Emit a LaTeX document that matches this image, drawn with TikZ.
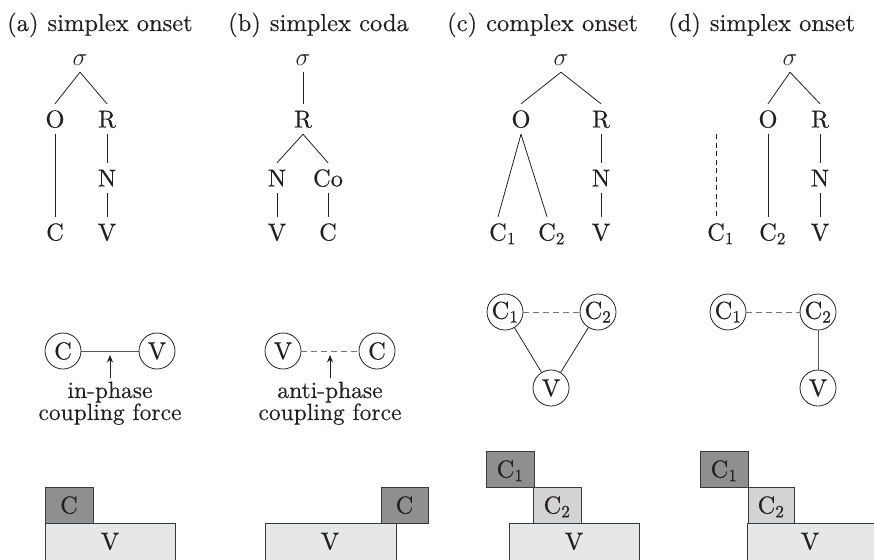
\documentclass[tikz,border=0pt]{standalone}
\usepackage{fontspec}
\setmainfont{lmroman10-regular.otf}[FakeBold=0.35, BoldFont=lmroman10-regular.otf, BoldFeatures={FakeBold=0.35}]
\usetikzlibrary{arrows.meta}

\definecolor{boxdark}{HTML}{8F8F8F}
\definecolor{boxmid}{HTML}{D3D3D3}
\definecolor{boxlight}{HTML}{E6E7E8}
\definecolor{boxedge}{HTML}{3A3A3A}
\definecolor{ink}{HTML}{231F20}

% consonant with an index, index set in the text font
\newcommand{\Cix}[1]{C\textsubscript{#1}}
% same, but the index takes no width so the node centres on the C
\newcommand{\Cixl}[1]{C\rlap{\textsubscript{#1}}}

\begin{document}
\begin{tikzpicture}[x=1pt,y=-1pt,
  every node/.style={font=\fontsize{24.5}{24.5}\selectfont\bfseries, text=ink},
  % tree labels: node centre sits at the middle of the capitals
  tn/.style={inner sep=0pt, minimum height=30pt, text height=17pt, text depth=0pt},
  % oscillator circles in the coupling graphs
  osc/.style={draw=ink, circle, minimum size=36pt, inner sep=0pt, line width=0.8pt},
  branch/.style={line width=0.8pt, draw=ink},
  dotbranch/.style={line width=0.8pt, draw=ink, dash pattern=on 5pt off 3.5pt},
  inphase/.style={line width=0.9pt, draw=black!65},
  inphasedark/.style={line width=0.8pt, draw=black!85},
  antiphase/.style={line width=0.9pt, draw=black!55, dash pattern=on 6pt off 4pt},
  force/.style={-{Stealth[length=7.5pt,width=6pt]}, line width=0.8pt, draw=ink, fill=ink},
  lab/.style={inner sep=0pt, anchor=base, font=\fontsize{23.5}{23.5}\selectfont\bfseries},
  ttl/.style={inner sep=0pt, anchor=base west},
  gbox/.style={draw=boxedge, line width=0.7pt},
  boxtxt/.style={inner sep=0pt, text height=17pt, text depth=0pt}
]
\useasboundingbox (0,0) rectangle (874,559);

% ---------------- titles ----------------
\node[ttl] (ta) at (7,31)   {(a)\hspace{9pt}simplex onset};
\node[ttl] (tb) at (228,31) {(b)\hspace{9pt}simplex coda};
\node[ttl] (tc) at (447,31) {(c)\hspace{9pt}complex onset};
\node[ttl] (td) at (668,31) {(d)\hspace{9pt}simplex onset};

% ---------------- trees ----------------
% (a)
\node[tn] (a-s) at (80,57) {$\sigma$};
\node[tn] (a-O) at (55,119)  {O};
\node[tn] (a-R) at (107,119) {R};
\node[tn] (a-N) at (107,178) {N};
\node[tn] (a-C) at (55,232)  {C};
\node[tn] (a-V) at (107,232) {V};
\draw[branch] (a-s.south) -- (a-O.north);
\draw[branch] (a-s.south) -- (a-R.north);
\draw[branch] (a-O.south) -- (a-C.north);
\draw[branch] (a-R.south) -- (a-N.north);
\draw[branch] (a-N.south) -- (a-V.north);

% (b)
\node[tn] (b-s)  at (303,57) {$\sigma$};
\node[tn] (b-R)  at (303,119) {R};
\node[tn] (b-N)  at (277,178) {N};
\node[tn] (b-Co) at (328,178) {Co};
\node[tn] (b-V)  at (277,232) {V};
\node[tn] (b-C)  at (328,232) {C};
\draw[branch] (b-s.south) -- (b-R.north);
\draw[branch] (b-R.south) -- (b-N.north);
\draw[branch] (b-R.south) -- (b-Co.north);
\draw[branch] (b-N.south) -- (b-V.north);
\draw[branch] (b-Co.south) -- (b-C.north);

% (c)
\node[tn] (c-s)  at (561,57) {$\sigma$};
\node[tn] (c-O)  at (521,119) {O};
\node[tn] (c-R)  at (601,119) {R};
\node[tn] (c-N)  at (601,178) {N};
\node[tn] (c-C1) at (498,232) {\Cixl{1}};
\node[tn] (c-C2) at (547,232) {\Cixl{2}};
\node[tn] (c-V)  at (601,232) {V};
\draw[branch] (c-s.south) -- (c-O.north);
\draw[branch] (c-s.south) -- (c-R.north);
\draw[branch] (c-O.south) -- (c-C1.north);
\draw[branch] (c-O.south) -- (c-C2.north);
\draw[branch] (c-R.south) -- (c-N.north);
\draw[branch] (c-N.south) -- (c-V.north);

% (d)
\node[tn] (d-s)  at (790,57) {$\sigma$};
\node[tn] (d-O)  at (768,119) {O};
\node[tn] (d-R)  at (820,119) {R};
\node[tn] (d-N)  at (820,178) {N};
\node[tn] (d-C1) at (716,232) {\Cixl{1}};
\node[tn] (d-C2) at (768,232) {\Cixl{2}};
\node[tn] (d-V)  at (820,232) {V};
\coordinate (d-loose) at (716,134);
\draw[branch] (d-s.south) -- (d-O.north);
\draw[branch] (d-s.south) -- (d-R.north);
\draw[branch] (d-O.south) -- (d-C2.north);
\draw[dotbranch] (d-loose) -- (d-C1.north);
\draw[branch] (d-R.south) -- (d-N.north);
\draw[branch] (d-N.south) -- (d-V.north);

% ---------------- coupling graphs ----------------
% (a) in-phase
\node[osc] (ga-C) at (63,351)  {C};
\node[osc] (ga-V) at (157,351) {V};
\draw[inphase] (ga-C) -- (ga-V);
\coordinate (ga-tail) at (110,378);
\coordinate (ga-tip)  at (110,355);
\draw[force] (ga-tail) -- (ga-tip);
\node[lab] (ga-l1) at (110,398) {in-phase};
\node[lab] (ga-l2) at (110,420) {coupling force};

% (b) anti-phase
\node[osc] (gb-V) at (283,351) {V};
\node[osc] (gb-C) at (377,351) {C};
\draw[antiphase] (gb-V) -- (gb-C);
\coordinate (gb-tail) at (330,378);
\coordinate (gb-tip)  at (330,355);
\draw[force] (gb-tail) -- (gb-tip);
\node[lab] (gb-l1) at (330,398) {anti-phase};
\node[lab] (gb-l2) at (330,420) {coupling force};

% (c) triangle
\node[osc] (gc-C1) at (505,312) {\Cix{1}};
\node[osc] (gc-C2) at (598,312) {\Cix{2}};
\node[osc] (gc-V)  at (551,388) {V};
\draw[antiphase] (gc-C1) -- (gc-C2);
\draw[inphasedark] (gc-C1) -- (gc-V);
\draw[inphasedark] (gc-C2) -- (gc-V);

% (d) chain
\node[osc] (gd-C1) at (728,312) {\Cix{1}};
\node[osc] (gd-C2) at (818,312) {\Cix{2}};
\node[osc] (gd-V)  at (818,388) {V};
\draw[antiphase] (gd-C1) -- (gd-C2);
\draw[inphase] (gd-C2) -- (gd-V);

% ---------------- gestural scores ----------------
% (a)
\filldraw[gbox, fill=boxlight] (45,523) rectangle (175,575);
\filldraw[gbox, fill=boxdark]  (45,487) rectangle (93,523);
\node[boxtxt] (sa-C) at (69,505)  {C};
\node[boxtxt] (sa-V) at (110,541) {V};

% (b)
\filldraw[gbox, fill=boxlight] (265,523) rectangle (396,575);
\filldraw[gbox, fill=boxdark]  (381,487) rectangle (428,523);
\node[boxtxt] (sb-C) at (404.5,505) {C};
\node[boxtxt] (sb-V) at (330,541)   {V};

% (c)
\filldraw[gbox, fill=boxlight] (509,523) rectangle (639,575);
\filldraw[gbox, fill=boxmid]   (533,487) rectangle (581,523);
\filldraw[gbox, fill=boxdark]  (486,451) rectangle (534,487);
\node[boxtxt] (sc-C1) at (510,469) {\Cix{1}};
\node[boxtxt] (sc-C2) at (557,505) {\Cix{2}};
\node[boxtxt] (sc-V)  at (574,541) {V};

% (d)
\filldraw[gbox, fill=boxlight] (747,523) rectangle (885,575);
\filldraw[gbox, fill=boxmid]   (748,487) rectangle (794,523);
\filldraw[gbox, fill=boxdark]  (700,451) rectangle (748,487);
\node[boxtxt] (sd-C1) at (724,469) {\Cix{1}};
\node[boxtxt] (sd-C2) at (771,505) {\Cix{2}};
\node[boxtxt] (sd-V)  at (810,541) {V};
\end{tikzpicture}
\end{document}
